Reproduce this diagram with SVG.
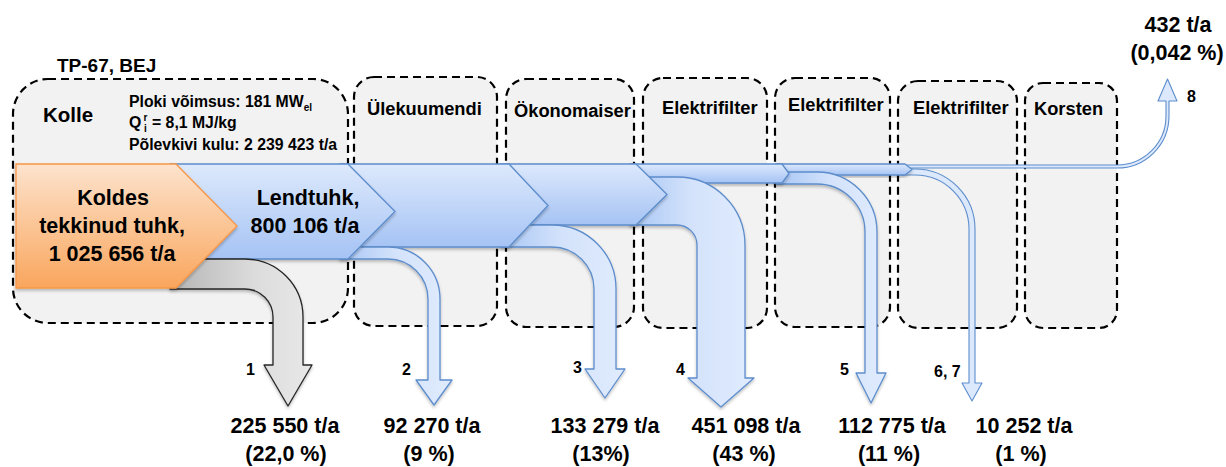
<svg xmlns="http://www.w3.org/2000/svg" width="1226" height="467" viewBox="0 0 1226 467">
  <defs>
    <linearGradient id="gBlueV" x1="0" y1="0" x2="0" y2="1">
      <stop offset="0" stop-color="#dde9fc"/>
      <stop offset="1" stop-color="#a5c3f4"/>
    </linearGradient>
    <linearGradient id="gBlueH" x1="0" y1="0" x2="1" y2="0">
      <stop offset="0" stop-color="#a8c6f5"/>
      <stop offset="0.5" stop-color="#d4e3fb"/>
      <stop offset="1" stop-color="#e0ebfd"/>
    </linearGradient>
    <linearGradient id="gGray" x1="0" y1="0" x2="1" y2="0">
      <stop offset="0" stop-color="#b4b4b4"/>
      <stop offset="0.6" stop-color="#dcdcdc"/>
      <stop offset="1" stop-color="#e8e8e8"/>
    </linearGradient>
    <linearGradient id="gOrange" x1="0" y1="0" x2="0" y2="1">
      <stop offset="0" stop-color="#fde3cd"/>
      <stop offset="1" stop-color="#f9a65d"/>
    </linearGradient>
    <filter id="shadow" x="-10%" y="-10%" width="130%" height="130%">
      <feDropShadow dx="0" dy="2" stdDeviation="1.8" flood-color="#000" flood-opacity="0.25"/>
    </filter>
  </defs>
  <style>
    .box{fill:#f2f2f2;stroke:#000;stroke-width:2.2;stroke-dasharray:8 5}
    .chev{fill:url(#gBlueV);stroke:#5d8dcc;stroke-width:1.3;stroke-linejoin:round;filter:url(#shadow)}
    .branch{fill:url(#gBlueH);stroke:#5d8dcc;stroke-width:1.3;stroke-linejoin:round;filter:url(#shadow)}
    .thin{fill:#dce8fc;stroke:#5d8dcc;stroke-width:1.1;stroke-linejoin:round}
    .ash{fill:url(#gGray);stroke:#262626;stroke-width:1.3;stroke-linejoin:round;filter:url(#shadow)}
    .furnace{fill:url(#gOrange);stroke:#f79646;stroke-width:1.3;filter:url(#shadow)}
    .t{font-family:"Liberation Sans",Arial,sans-serif;font-weight:bold;fill:#000}
    .big{font-size:21.5px}
    .lbl{font-size:18.3px}
    .info{font-size:15.8px}
    .num{font-size:16px}
    .mid{text-anchor:middle}
  </style>

  <rect width="1226" height="467" fill="#fff"/>

  <text class="t" x="57" y="72" font-size="19">TP-67, BEJ</text>

  <!-- process stages -->
  <g id="kolle">
    <rect class="box" x="13" y="79" width="335" height="244" rx="35"/>
    <text class="t" x="43" y="122" font-size="20.5">Kolle</text>
    <text class="t info" x="129" y="107">Ploki võimsus: 181 MW<tspan font-size="10" dy="4">el</tspan></text>
    <text class="t info" x="129" y="128">Q</text>
    <text class="t" x="143.5" y="121" font-size="10">r</text>
    <text class="t" x="144" y="132" font-size="10">i</text>
    <text class="t info" x="152" y="128">= 8,1 MJ/kg</text>
    <text class="t info" x="129" y="150">Põlevkivi kulu: 2 239 423 t/a</text>
  </g>
  <g id="ylekuumendi">
    <rect class="box" x="354" y="77" width="143" height="249" rx="20"/>
    <text class="t lbl" x="367" y="115">Ülekuumendi</text>
  </g>
  <g id="okonomaiser">
    <rect class="box" x="506" y="79" width="128" height="248" rx="20"/>
    <text class="t lbl" x="514" y="117">Ökonomaiser</text>
  </g>
  <g id="elektrifilter1">
    <rect class="box" x="643" y="78" width="124" height="250" rx="20"/>
    <text class="t lbl" x="662" y="114">Elektrifilter</text>
  </g>
  <g id="elektrifilter2">
    <rect class="box" x="775" y="78" width="115" height="249" rx="20"/>
    <text class="t lbl" x="788" y="111">Elektrifilter</text>
  </g>
  <g id="elektrifilter3">
    <rect class="box" x="898" y="81" width="119" height="247" rx="20"/>
    <text class="t lbl" x="913" y="114">Elektrifilter</text>
  </g>
  <g id="korsten">
    <rect class="box" x="1025" y="83" width="92" height="245" rx="18"/>
    <text class="t lbl" x="1034" y="115">Korsten</text>
  </g>

  <!-- ash flows, painted downstream first so each upstream chevron overlaps the next -->
  <g id="flows">
    <!-- 8: to stack -->
    <path class="thin" d="M900,165 H1117 A49,49 0 0 0 1166,116 V101 H1158 L1167.5,79 L1177,101 H1169 V116 A52,52 0 0 1 1117,168 H900 Z"/>
    <!-- 6, 7 -->
    <path class="thin" d="M900,169 H915 A60,60 0 0 1 975,229 V383 H982 L972,401 L962,383 H969 V229 A54,54 0 0 0 915,175 H900 Z"/>
    <path class="chev" d="M776,164 H905 L912,169.5 L905,175 H776 Z"/>
    <!-- 5 -->
    <path class="branch" d="M776,172 H817 A60,60 0 0 1 877,232 V373 H886 L871,403 L856,373 H865 V232 A48,48 0 0 0 817,184 H776 Z"/>
    <path class="chev" d="M630,164 H782 L789,173.5 L782,183 H630 Z"/>
    <!-- 4 -->
    <path class="branch" d="M630,177 H677 A68,68 0 0 1 745,245 V378 H754 L721,407 L688,378 H697 V245 A20,20 0 0 0 677,225 H630 Z"/>
    <path class="chev" d="M500,164 H636 L667,194.5 L636,225 H500 Z"/>
    <!-- 3 -->
    <path class="branch" d="M500,225 H552 A64,64 0 0 1 616,289 V369 H625 L605,398 L585,369 H594 V289 A42,42 0 0 0 552,247 H500 Z"/>
    <path class="chev" d="M340,164 H509 L548,205.5 L509,247 H340 Z"/>
    <!-- 2 -->
    <path class="branch" d="M340,247 H388 A52,52 0 0 1 440,299 V380 H452 L434,405 L416,380 H428 V299 A40,40 0 0 0 388,259 H340 Z"/>
    <path class="chev" d="M170,164 H348 L395,211.5 L348,259 H170 Z"/>
    <!-- 1: bottom ash -->
    <path class="ash" d="M170,259 H245 A58,58 0 0 1 303,317 V365 H312 L288,406 L264,365 H273 V317 A28,28 0 0 0 245,289 H170 Z"/>
    <path class="furnace" d="M16,164 H176 L237,226 L176,288 H16 Z"/>

    <text class="t big mid" x="113" y="205">Koldes</text>
    <text class="t big mid" x="112" y="233">tekkinud tuhk,</text>
    <text class="t big mid" x="112" y="261">1 025 656 t/a</text>
    <text class="t big mid" x="308" y="205">Lendtuhk,</text>
    <text class="t big mid" x="305" y="233">800 106 t/a</text>
  </g>

  <!-- stream numbers and quantities -->
  <g id="labels">
    <text class="t num" x="246" y="375">1</text>
    <text class="t num" x="402" y="375">2</text>
    <text class="t num" x="573" y="373">3</text>
    <text class="t num" x="676" y="375">4</text>
    <text class="t num" x="840" y="375">5</text>
    <text class="t num" x="934" y="377">6, 7</text>
    <text class="t num" x="1187" y="102">8</text>

    <text class="t big mid" x="285" y="433">225 550 t/a</text>
    <text class="t big mid" x="286" y="461">(22,0 %)</text>
    <text class="t big mid" x="432" y="433">92 270 t/a</text>
    <text class="t big mid" x="429" y="461">(9 %)</text>
    <text class="t big mid" x="605" y="433">133 279 t/a</text>
    <text class="t big mid" x="601" y="461">(13%)</text>
    <text class="t big mid" x="746" y="433">451 098 t/a</text>
    <text class="t big mid" x="744" y="461">(43 %)</text>
    <text class="t big mid" x="892" y="433">112 775 t/a</text>
    <text class="t big mid" x="889" y="461">(11 %)</text>
    <text class="t big mid" x="1024" y="433">10 252 t/a</text>
    <text class="t big mid" x="1021" y="461">(1 %)</text>
    <text class="t big mid" x="1178" y="32">432 t/a</text>
    <text class="t big mid" x="1177" y="60">(0,042 %)</text>
  </g>
</svg>
